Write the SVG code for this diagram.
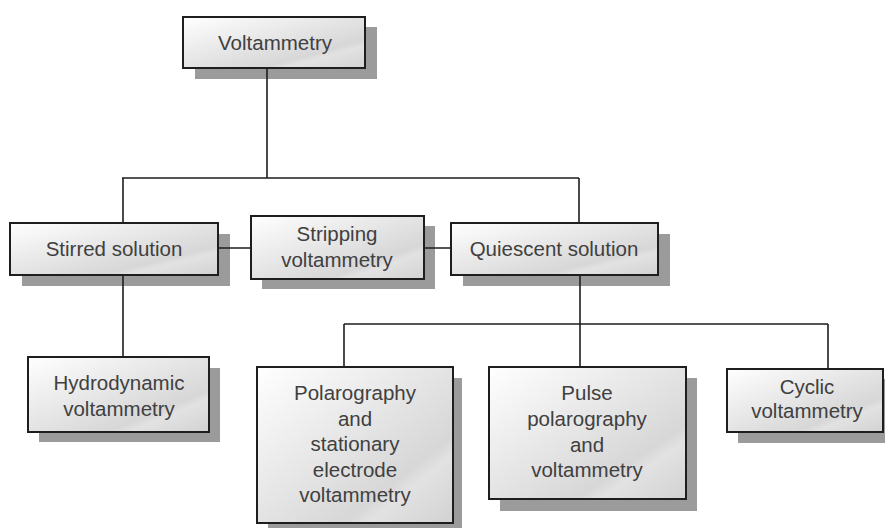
<svg xmlns="http://www.w3.org/2000/svg" width="885" height="528" viewBox="0 0 885 528">
<defs>
<linearGradient id="g" x1="0" y1="0" x2="1" y2="1">
<stop offset="0" stop-color="#ffffff"/>
<stop offset="0.72" stop-color="#d7d7d7"/>
<stop offset="0.78" stop-color="#e2e2e2"/>
<stop offset="1" stop-color="#d2d2d2"/>
</linearGradient>
</defs>
<style>
.sh{fill:#9b9b9b}
.bx{fill:url(#g);stroke:#1e1e1e;stroke-width:2}
.t{font-family:"Liberation Sans",Arial,sans-serif;font-size:20.5px;fill:#404040;text-anchor:middle}
.c{fill:none;stroke:#1e1e1e;stroke-width:1.6}
</style>
<rect width="885" height="528" fill="#ffffff"/>
<g id="voltammetry">
<rect class="sh" x="195" y="27" width="182" height="52"/>
<rect class="bx" x="183" y="17" width="182" height="51"/>
<text class="t" x="275" y="50">Voltammetry</text>
</g>
<g id="stirred">
<rect class="sh" x="22" y="234" width="208" height="52"/>
<rect class="bx" x="10" y="223" width="208" height="52"/>
<text class="t" x="114" y="256">Stirred solution</text>
</g>
<g id="stripping">
<rect class="sh" x="262" y="226" width="173" height="63"/>
<rect class="bx" x="251" y="216" width="173" height="63"/>
<text class="t" x="337" y="241">Stripping</text>
<text class="t" x="337" y="267">voltammetry</text>
</g>
<g id="quiescent">
<rect class="sh" x="463" y="234" width="207" height="52"/>
<rect class="bx" x="451" y="223" width="207" height="52"/>
<text class="t" x="554" y="256">Quiescent solution</text>
</g>
<g id="hydrodynamic">
<rect class="sh" x="39" y="368" width="181" height="74"/>
<rect class="bx" x="28" y="357" width="181" height="75"/>
<text class="t" x="119" y="390">Hydrodynamic</text>
<text class="t" x="119" y="416">voltammetry</text>
</g>
<g id="polarography">
<rect class="sh" x="268" y="378" width="194" height="150"/>
<rect class="bx" x="257" y="367" width="196" height="156"/>
<text class="t" x="355" y="400">Polarography</text>
<text class="t" x="355" y="426">and</text>
<text class="t" x="355" y="451">stationary</text>
<text class="t" x="355" y="477">electrode</text>
<text class="t" x="355" y="502">voltammetry</text>
</g>
<g id="pulse">
<rect class="sh" x="500" y="378" width="197" height="133"/>
<rect class="bx" x="489" y="367" width="197" height="132"/>
<text class="t" x="587" y="400">Pulse</text>
<text class="t" x="587" y="426">polarography</text>
<text class="t" x="587" y="452">and</text>
<text class="t" x="587" y="477">voltammetry</text>
</g>
<g id="cyclic">
<rect class="sh" x="738" y="379" width="160" height="64"/>
<rect class="bx" x="727" y="369" width="156" height="63"/>
<text class="t" x="807" y="394">Cyclic</text>
<text class="t" x="807" y="418">voltammetry</text>
</g>
<g id="connectors">
<path class="c" d="M267 69V178M122 178H579M123 178V222M579 178V222"/>
<path class="c" d="M219 248H250M425 248H450"/>
<path class="c" d="M123 276V356"/>
<path class="c" d="M580 276V324M344 324H828M344 324V366M580 324V366M828 324V368"/>
</g>
</svg>
